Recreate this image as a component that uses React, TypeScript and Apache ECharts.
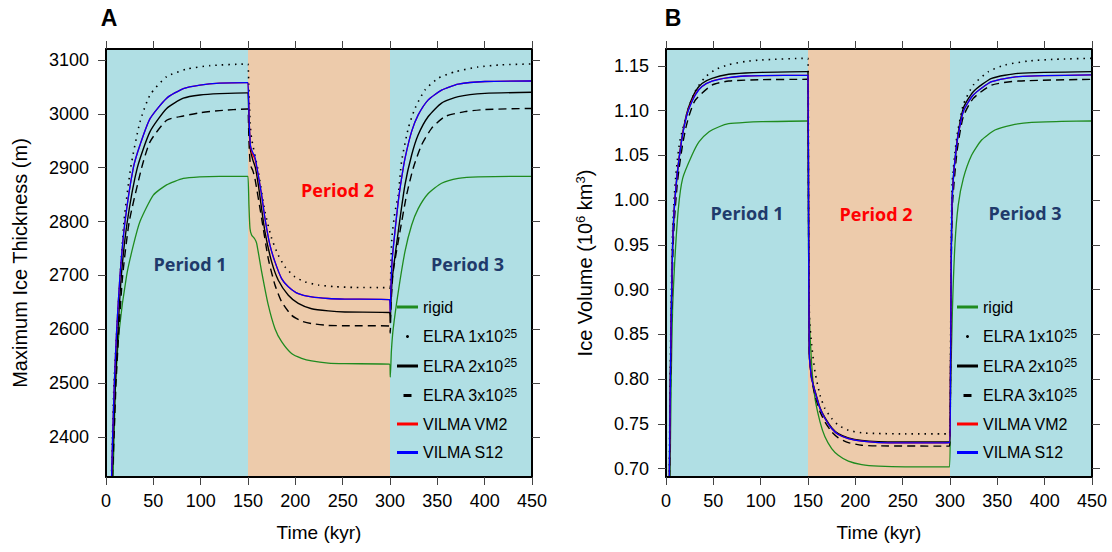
import React, { useEffect, useRef } from "react";
import * as echarts from "echarts";

// ---------- categories / ticks ----------
const periodEdges = [0, 150, 300, 450];
const periodColors = ["#b0dfe4", "#edcbab", "#b0dfe4"];
const xTicks = [0, 50, 100, 150, 200, 250, 300, 350, 400, 450];
const yTicksThickness = [2400, 2500, 2600, 2700, 2800, 2900, 3000, 3100];
const yTicksVolume = [0.7, 0.75, 0.8, 0.85, 0.9, 0.95, 1.0, 1.05, 1.1, 1.15];
const seriesNames = ["rigid", "ELRA 1x10^25", "ELRA 2x10^25", "ELRA 3x10^25", "VILMA VM2", "VILMA S12"];

// ---------- Panel A: maximum ice thickness (m), [time kyr, value] ----------
const thickRigid = [
  [7.2, 2300], [8.5, 2400], [10.2, 2500], [14.1, 2600], [21.8, 2700], [28.9, 2756], [35.9, 2800], [50, 2849], [64, 2868], [81.7, 2880], [99, 2883], [120, 2884], [149, 2884],
  [150, 2884], [151, 2830], [152.1, 2787], [153.8, 2775], [157, 2768], [159.1, 2760], [164.4, 2707], [171.4, 2645], [178.5, 2601], [185.5, 2577], [196, 2555], [206.6, 2546], [217.2, 2541], [234.8, 2537], [252.4, 2536], [299.5, 2535],
  [300.3, 2511], [301.5, 2560], [303.4, 2601], [308.7, 2669], [315.8, 2744], [322.8, 2793], [329.8, 2824], [340.4, 2852], [354.5, 2871], [372.1, 2880], [393.2, 2883], [450, 2884],
];
const thickElra1 = [
  [5.5, 2300], [6.8, 2400], [8.5, 2500], [11.5, 2600], [15, 2700], [19, 2800], [26.1, 2900], [35.9, 2985], [46.5, 3035], [64.1, 3069], [85.2, 3083], [109.9, 3089.5], [149, 3092.5],
  [150, 3092.5], [151, 3040], [152.2, 2985], [153.8, 2954], [160.9, 2892.5], [167.9, 2818], [175, 2768.5], [182, 2737.5], [189, 2716], [199.6, 2697], [210.2, 2688], [224.3, 2682], [241.9, 2679], [263, 2677.5], [299.5, 2677],
  [300.2, 2672], [301, 2720], [302, 2770], [305, 2815], [308.7, 2849], [312.2, 2911], [319.3, 2973], [326.4, 3010], [336.8, 3044], [350.9, 3066], [368.5, 3078], [393.1, 3087], [417.8, 3091], [450, 3092.6],
];
const thickElra2 = [
  [5.8, 2300], [7.7, 2400], [9.9, 2500], [12.7, 2600], [16.2, 2700], [22.5, 2800], [33.1, 2900], [46.5, 2967], [64.1, 3010], [81.7, 3029], [99.3, 3035], [120, 3037.5], [149, 3039],
  [150, 3039], [151.2, 2975], [152.5, 2935], [155, 2915], [157.8, 2900], [160.9, 2868], [167.9, 2781], [175, 2725], [182, 2691], [192.6, 2663], [203.1, 2648], [217.2, 2638], [234.8, 2634], [252.4, 2632], [299.5, 2631],
  [300.2, 2612], [301, 2650], [302.4, 2694], [308.7, 2781], [315.8, 2868], [322.8, 2923], [329.8, 2961], [340.4, 2995], [354.5, 3020], [372.1, 3032], [400.3, 3038], [450, 3040],
];
const thickElra3 = [
  [6.2, 2300], [8.5, 2400], [10.6, 2500], [13.7, 2600], [17.6, 2700], [24.6, 2800], [37.7, 2900], [46.5, 2948], [64.1, 2988], [81.7, 2996], [99.3, 3002], [120, 3006], [149, 3009],
  [150, 3009], [151, 2950], [152.5, 2905], [155, 2895], [157.3, 2880], [164.4, 2806], [171.4, 2731], [178.5, 2682], [185.5, 2651], [196, 2626], [206.6, 2615], [217.2, 2610.5], [234.8, 2607], [252.4, 2606.5], [299.5, 2606],
  [300.2, 2593], [301.2, 2650], [303.4, 2707], [310.5, 2781], [317.5, 2849], [324.5, 2899], [333.3, 2942], [343.9, 2973], [358, 2995], [379.1, 3004], [400.2, 3008], [450, 3010],
];
const thickVm2 = [
  [5.5, 2300], [7.0, 2400], [8.8, 2500], [11.3, 2600], [14.8, 2700], [20.1, 2800], [28.9, 2900], [35.9, 2942], [46.5, 2991], [64.1, 3029], [81.7, 3047], [99.3, 3053.5], [120, 3057], [149, 3058],
  [150, 3058], [151.2, 2990], [152.5, 2942], [154.5, 2926], [157.3, 2916], [160.5, 2889], [164.4, 2849], [167.9, 2806], [173.2, 2756], [178.5, 2725], [185.5, 2694], [192.6, 2679], [203.1, 2666], [217.2, 2660], [234.8, 2657], [252.4, 2656], [299.5, 2655],
  [300.2, 2632], [301, 2680], [302.4, 2731], [305.2, 2781], [308.7, 2837], [312.2, 2880], [315.8, 2917], [322.8, 2967], [329.8, 2998], [340.4, 3026], [354.5, 3044], [372.1, 3055], [400.3, 3060], [450, 3061],
];
const thickS12 = [
  [5.5, 2300], [7.0, 2400], [8.8, 2500], [11.3, 2600], [14.8, 2700], [20.1, 2800], [28.9, 2900], [35.9, 2942], [46.5, 2991], [64.1, 3029], [81.7, 3047], [99.3, 3053.5], [120, 3057], [149, 3058],
  [150, 3058], [151.2, 2990], [152.5, 2942], [154.5, 2930], [157.3, 2920], [160.5, 2890], [164.4, 2849], [167.9, 2806], [173.2, 2756], [178.5, 2725], [185.5, 2694], [192.6, 2679], [203.1, 2666], [217.2, 2660], [234.8, 2657], [252.4, 2656], [299.5, 2655],
  [300.2, 2632], [301, 2680], [302.4, 2731], [305.2, 2781], [308.7, 2837], [312.2, 2880], [315.8, 2917], [322.8, 2967], [329.8, 2998], [340.4, 3026], [354.5, 3044], [372.1, 3055], [400.3, 3060], [450, 3061],
];

// ---------- Panel B: ice volume (10^6 km^3), [time kyr, value] ----------
const volRigid = [
  [4.0, 0.66], [5.5, 0.8], [7.0, 0.88], [9.2, 0.931], [13.0, 0.99], [17.6, 1.0243], [27.5, 1.0504], [35, 1.0654], [45.5, 1.0765], [56.1, 1.0821], [66.2, 1.0855], [83.8, 1.087], [101.4, 1.0877], [149, 1.0885],
  [150, 1.0885], [150.6, 0.95], [151.3, 0.875], [153.9, 0.8156], [157.4, 0.7783], [162.7, 0.7522], [167.9, 0.7354], [175, 0.7223], [182, 0.7149], [192.6, 0.7082], [206.7, 0.7044], [224.3, 0.7026], [252.5, 0.7018], [299.5, 0.7018],
  [300.5, 0.78], [302.5, 0.875], [305.2, 0.95], [308.7, 0.9945], [314.1, 1.0243], [322.9, 1.0504], [333.4, 1.0672], [347.5, 1.0784], [365.1, 1.084], [386.2, 1.087], [417.9, 1.0881], [450, 1.0885],
];
const volElra1 = [
  [3.2, 0.66], [4.4, 0.8], [5.4, 0.88], [6.7, 0.955], [8.2, 0.995], [11, 1.035], [15, 1.068], [23.9, 1.103], [31, 1.1225], [41.5, 1.1375], [52.1, 1.146], [66.2, 1.1515], [83.8, 1.155], [101.4, 1.1568], [149, 1.1586],
  [150, 1.1586], [150.6, 1.0], [151.5, 0.87], [153.9, 0.838], [157.4, 0.808], [162.7, 0.782], [167.9, 0.767], [175, 0.756], [182, 0.7484], [192.6, 0.7428], [206.7, 0.7399], [224.3, 0.7391], [252.5, 0.7387], [299.5, 0.7387],
  [300.5, 0.82], [301.3, 0.95], [302.4, 1.02], [307, 1.069], [314, 1.1064], [324.6, 1.1287], [340.5, 1.1437], [358.1, 1.1511], [382.7, 1.1556], [410.9, 1.1575], [450, 1.1586],
];
const volElra2 = [
  [3.3, 0.66], [4.6, 0.8], [5.6, 0.875], [7.0, 0.95], [8.5, 0.986], [11.3, 1.023], [13.4, 1.043], [16.9, 1.07], [20.4, 1.09], [23.9, 1.104], [31, 1.1213], [38, 1.1305], [48.6, 1.1362], [66.2, 1.1407], [83.8, 1.1422], [101.4, 1.1429], [149, 1.1437],
  [150, 1.1437], [150.6, 0.98], [151.3, 0.83], [153.9, 0.801], [157.4, 0.7867], [162.7, 0.768], [167.9, 0.7569], [175, 0.7457], [182, 0.739], [192.6, 0.7343], [206.7, 0.7313], [224.3, 0.73], [252.5, 0.7298], [299.5, 0.7298],
  [300.5, 0.8], [301.3, 0.93], [302.4, 1.005], [307, 1.062], [314, 1.1026], [324.6, 1.1213], [344, 1.1362], [372.2, 1.1418], [450, 1.1437],
];
const volElra3 = [
  [3.5, 0.66], [4.8, 0.8], [5.9, 0.875], [7.4, 0.945], [9.0, 0.98], [11.8, 1.017], [13.9, 1.036], [17.5, 1.062], [21, 1.081], [24.5, 1.095], [31, 1.112], [48.6, 1.1287], [66.2, 1.1332], [101.4, 1.1347], [149, 1.1351],
  [150, 1.1351], [150.6, 0.98], [151.3, 0.83], [153.9, 0.799], [157.4, 0.782], [162.7, 0.7634], [167.9, 0.7522], [175, 0.741], [182, 0.7342], [192.6, 0.729], [206.7, 0.726], [224.3, 0.7253], [299.5, 0.725],
  [300.5, 0.8], [301.3, 0.92], [302.6, 0.995], [307.5, 1.055], [314, 1.0933], [324.6, 1.1138], [344, 1.1287], [372.2, 1.1332], [450, 1.1351],
];
const volVm2 = [
  [3.3, 0.66], [4.6, 0.8], [5.6, 0.875], [7.0, 0.95], [8.5, 0.987], [11.3, 1.024], [13.4, 1.044], [16.9, 1.07], [20.4, 1.089], [23.9, 1.102], [31, 1.1182], [38, 1.1272], [48.6, 1.1332], [66.2, 1.137], [83.8, 1.1388], [101.4, 1.1392], [149, 1.1396],
  [150, 1.1396], [150.6, 0.98], [151.3, 0.83], [153.9, 0.8006], [157.4, 0.7857], [162.7, 0.767], [167.9, 0.7559], [175, 0.7447], [182, 0.738], [192.6, 0.7335], [206.7, 0.7305], [224.3, 0.729], [252.5, 0.7287], [299.5, 0.729],
  [300.5, 0.8], [301.3, 0.93], [302.4, 1.0057], [307, 1.0616], [314, 1.0989], [324.6, 1.1176], [344, 1.1325], [372.2, 1.1381], [450, 1.14],
];
const volS12 = [
  [3.3, 0.66], [4.6, 0.8], [5.6, 0.875], [7.0, 0.95], [8.5, 0.987], [11.3, 1.024], [13.4, 1.043], [16.9, 1.069], [20.4, 1.088], [23.9, 1.101], [31, 1.1176], [38, 1.127], [48.6, 1.133], [66.2, 1.137], [83.8, 1.1388], [101.4, 1.1392], [149, 1.1396],
  [150, 1.1396], [150.6, 0.98], [151.3, 0.83], [153.9, 0.8006], [157.4, 0.7857], [162.7, 0.767], [167.9, 0.7559], [175, 0.7447], [182, 0.738], [192.6, 0.7335], [206.7, 0.7305], [224.3, 0.729], [252.5, 0.7287], [299.5, 0.729],
  [300.5, 0.8], [301.3, 0.93], [302.4, 1.0057], [307, 1.0616], [314, 1.0989], [324.6, 1.1176], [344, 1.1325], [372.2, 1.1381], [450, 1.14],
];

// ---------- styles ----------
const FONT = '"Liberation Sans", Arial, Helvetica, sans-serif';
const seriesStyles = [
  { color: "#1f8b1f", width: 1.3, type: "solid" },
  { color: "#000000", width: 1.6, type: [1.5, 5] },
  { color: "#000000", width: 1.4, type: "solid" },
  { color: "#000000", width: 1.4, type: [8, 5] },
  { color: "#ff0000", width: 1.3, type: "solid" },
  { color: "#0000ff", width: 1.3, type: "solid" },
];
const legendIcons = ["rect", "circle", "rect", "path://M0,0h8v3h-8z", "rect", "rect"];

function buildOption() {
  const grids = [
    { left: 106, top: 49, width: 426, height: 428 },
    { left: 666, top: 49, width: 426, height: 428 },
  ];
  const axisLine = { show: true, onZero: false, lineStyle: { color: "#000", width: 2 } };
  const axisTick = { show: true, length: 8, lineStyle: { color: "#444", width: 1 } };
  const labelFont = { fontSize: 18, color: "#000", fontFamily: FONT };

  const xAxis: any[] = [];
  [0, 1].forEach((gi) => {
    xAxis.push({
      gridIndex: gi, type: "value", min: 0, max: 450, interval: 50, position: "bottom", z: 10,
      axisLine, axisTick: { ...axisTick, customValues: xTicks },
      axisLabel: { show: true, ...labelFont, margin: 15, customValues: xTicks, formatter: (v: number) => String(v) },
      splitLine: { show: false },
      name: "Time (kyr)", nameLocation: "middle", nameGap: 46,
      nameTextStyle: { fontSize: 19, color: "#000", fontFamily: FONT },
    });
    xAxis.push({
      gridIndex: gi, type: "value", min: 0, max: 450, interval: 50, position: "top", z: 10,
      axisLine, axisTick: { ...axisTick, customValues: xTicks }, axisLabel: { show: false }, splitLine: { show: false },
    });
  });

  const yAxis: any[] = [
    {
      gridIndex: 0, type: "value", min: 2325.5, max: 3120.4, position: "left", z: 10,
      axisLine, axisTick: { ...axisTick, customValues: yTicksThickness },
      axisLabel: { ...labelFont, margin: 17, customValues: yTicksThickness, formatter: (v: number) => String(v) },
      splitLine: { show: false },
      name: "Maximum Ice Thickness (m)", nameLocation: "middle", nameGap: 76,
      nameTextStyle: { fontSize: 20, color: "#000", fontFamily: FONT },
    },
    {
      gridIndex: 0, type: "value", min: 2325.5, max: 3120.4, position: "right", z: 10,
      axisLine, axisTick: { ...axisTick, customValues: yTicksThickness }, axisLabel: { show: false, customValues: yTicksThickness }, splitLine: { show: false },
    },
    {
      gridIndex: 1, type: "value", min: 0.6905, max: 1.169, position: "left", z: 10,
      axisLine, axisTick: { ...axisTick, customValues: yTicksVolume },
      axisLabel: {
        ...labelFont, margin: 17, customValues: yTicksVolume,
        formatter: (v: number) => v.toFixed(2),
      },
      splitLine: { show: false },
      name: "{t|Ice Volume (10}{s|6}{t| km}{s|3}{t|)}", nameLocation: "middle", nameGap: 70,
      nameTextStyle: {
        fontSize: 20, color: "#000", fontFamily: FONT,
        rich: {
          t: { fontSize: 20, lineHeight: 22, fontFamily: FONT, color: "#000" },
          s: { fontSize: 13, lineHeight: 13, verticalAlign: "top", fontFamily: FONT, color: "#000" },
        },
      },
    },
    {
      gridIndex: 1, type: "value", min: 0.6905, max: 1.169, position: "right", z: 10,
      axisLine, axisTick: { ...axisTick, customValues: yTicksVolume }, axisLabel: { show: false, customValues: yTicksVolume }, splitLine: { show: false },
    },
  ];

  const bgSeries = (xi: number, yi: number) => ({
    type: "line", name: "_bg" + xi, xAxisIndex: xi, yAxisIndex: yi, data: [], z: 1, silent: true,
    markArea: {
      silent: true,
      data: periodColors.map((c, i) => [
        { xAxis: periodEdges[i], itemStyle: { color: c, opacity: 1 } },
        { xAxis: periodEdges[i + 1] },
      ]),
    },
  });

  const lineSeries = (name: string, data: number[][], xi: number, yi: number, st: any) => ({
    type: "line", name, data, xAxisIndex: xi, yAxisIndex: yi,
    showSymbol: false, symbol: "none", smooth: 0.2, clip: true, z: 3,
    color: st.color, itemStyle: { color: st.color },
    lineStyle: { color: st.color, width: st.width, type: st.type, cap: "butt", join: "round" },
    emphasis: { disabled: true },
  });

  const thickData = [thickRigid, thickElra1, thickElra2, thickElra3, thickVm2, thickS12];
  const volData = [volRigid, volElra1, volElra2, volElra3, volVm2, volS12];

  const series: any[] = [bgSeries(0, 0), bgSeries(2, 2)];
  seriesNames.forEach((n, i) => series.push(lineSeries(n, thickData[i], 0, 0, seriesStyles[i])));
  seriesNames.forEach((n, i) => series.push(lineSeries(n, volData[i], 2, 2, seriesStyles[i])));

  const legendFormatter = (name: string) => {
    const k = name.indexOf("^");
    return k < 0 ? `{n|${name}}` : `{n|${name.slice(0, k)}}{s|${name.slice(k + 1)}}`;
  };
  const makeLegend = (left: number) => ({
    show: true, orient: "vertical", left, top: 299, padding: 0,
    itemWidth: 21, itemHeight: 3, itemGap: 12.5, selectedMode: false,
    itemStyle: { borderWidth: 0 },
    data: seriesNames.map((n, i) => ({ name: n, icon: legendIcons[i], itemStyle: { color: seriesStyles[i].color, borderWidth: 0 } })),
    formatter: legendFormatter,
    textStyle: {
      fontFamily: FONT, fontSize: 16, color: "#000",
      rich: {
        n: { fontFamily: FONT, fontSize: 16, lineHeight: 18, color: "#000" },
        s: { fontFamily: FONT, fontSize: 12, lineHeight: 11, verticalAlign: "top", color: "#000" },
      },
    },
  });

  const txt = (text: string, x: number, y: number, fill: string, font: string) => ({
    type: "text", x, y, z: 20, silent: true,
    style: { text, fill, font, align: "center", verticalAlign: "middle", textAlign: "center", textVerticalAlign: "middle" },
  });
  const periodFont = 'bold 18px "Open Sans", sans-serif';
  const navy = "#1f3a6b";
  const graphic = [
    txt("A", 109, 18, "#000", `bold 23px ${FONT}`),
    txt("B", 673, 18, "#000", `bold 23px ${FONT}`),
    txt("Period 1", 190, 264, navy, periodFont),
    txt("Period 2", 337.5, 190, "#ff0000", periodFont),
    txt("Period 3", 467.5, 264, navy, periodFont),
    txt("Period 1", 747, 212.5, navy, periodFont),
    txt("Period 2", 876, 213.5, "#ff0000", periodFont),
    txt("Period 3", 1025, 212.5, navy, periodFont),
  ];

  return {
    animation: false,
    backgroundColor: "#ffffff",
    textStyle: { fontFamily: FONT },
    grid: grids,
    xAxis,
    yAxis,
    legend: [makeLegend(397), makeLegend(957)],
    series,
    graphic,
  };
}

export default function App() {
  const ref = useRef<HTMLDivElement>(null);
  useEffect(() => {
    if (!ref.current) return;
    const chart = echarts.init(ref.current, null, { renderer: "svg" });
    chart.setOption(buildOption() as any);
    return () => chart.dispose();
  }, []);
  return (
    <div
      ref={ref}
      style={{ position: "fixed", left: 0, top: 0, width: 1112, height: 552, background: "#fff" }}
    />
  );
}
